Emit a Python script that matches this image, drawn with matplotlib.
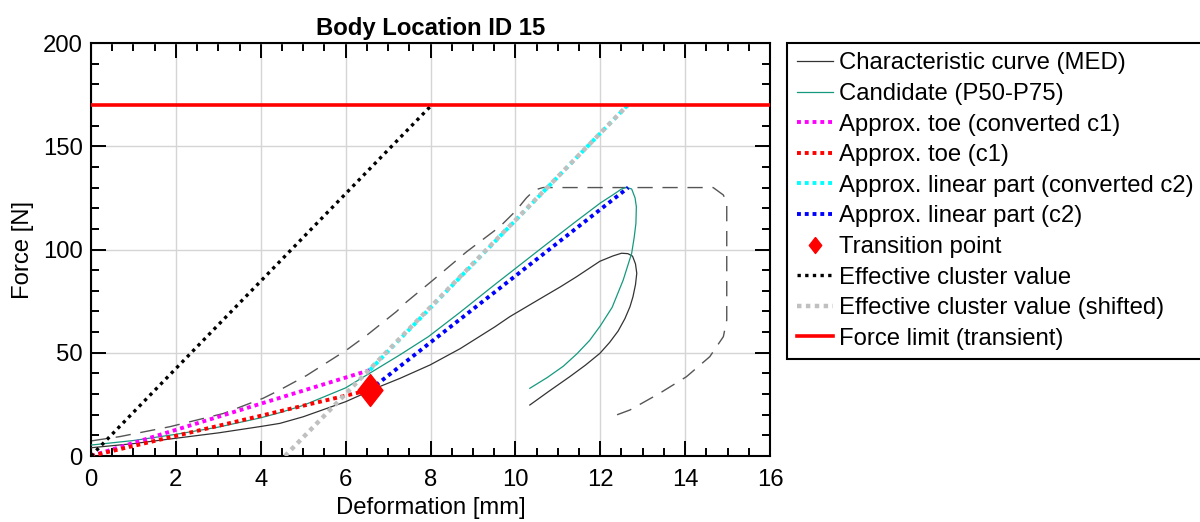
import matplotlib
matplotlib.use("Agg")
import matplotlib.pyplot as plt
from matplotlib.ticker import MultipleLocator

plt.rcParams['font.family'] = ['Liberation Sans', 'DejaVu Sans']
plt.rcParams['font.size'] = 17.2

# Characteristic curve (median), loading + unloading
med_x = [0, 1, 2, 3, 4, 4.45, 5, 6, 6.8, 7.28, 7.99, 8.7, 9.52, 9.87, 10.66, 11.05, 11.44,
         11.99, 12.3, 12.5, 12.65, 12.76, 12.83, 12.86, 12.83, 12.77, 12.7, 12.58, 12.42,
         12.22, 11.99, 11.65, 11.28, 10.8, 10.34]
med_y = [4, 6, 8.6, 11.2, 14.3, 15.8, 19, 26.3, 33.6, 37.6, 44.1, 52, 62.6, 67.5, 77.1, 81.8, 86.8,
         94.3, 96.9, 98.2, 98, 96.8, 93, 88.5, 83, 77.1, 72.3, 66.5, 60.5,
         55, 49.7, 44, 38.4, 31.5, 24.7]

# Candidate curve (P50-P75)
cand_x = [0, 1, 2, 3, 4, 4.45, 5, 6, 6.8, 7.28, 7.95, 8.69, 9.52, 10.0, 10.66, 11.05, 11.44,
          12.0, 12.3, 12.5, 12.62, 12.74, 12.82, 12.85, 12.84, 12.8, 12.74, 12.54, 12.28,
          12.0, 11.75, 11.45, 11.13, 10.75, 10.34]
cand_y = [5.3, 7.5, 10.5, 14, 18.5, 21, 24.5, 33, 43, 49, 57.8, 69.5, 83.1, 90.8, 101.4, 107.6, 113.8,
          122.5, 126.5, 129.3, 130.1, 129.3, 125, 120.7, 112.7, 106, 98.2, 85.2, 72,
          63, 56, 49.5, 43.5, 38, 32.8]

# Corridor boundary (dashed)
env_x = [0, 0.68, 1.86, 3.12, 4.06, 4.45, 5.08, 6.02, 6.5, 7.2, 7.44, 8.06, 8.85, 9.63, 10.0,
         10.26, 10.45, 10.65, 14.66, 14.9, 14.98, 14.98, 14.9, 14.58, 14.03, 13.4, 12.7, 12.23]
env_y = [7.3, 9.4, 14.2, 20.6, 28, 32, 39, 51.3, 58.5, 70, 74.7, 85.2, 98.9, 111, 118.5,
         125, 128.8, 130, 130, 126.4, 122.4, 65.9, 57.8, 48.1, 38.4, 30.4, 22.3, 18.7]

# Approximation lines
toe_conv_x = [0, 6.57]
toe_conv_y = [0, 41.6]
toe_x = [0, 6.57]
toe_y = [0, 32]
lin_conv_x = [6.57, 12.65]
lin_conv_y = [41.6, 170]
lin_x = [6.57, 12.66]
lin_y = [32, 130]
trans_x = [6.57]
trans_y = [32]
eff_x = [0, 8.03]
eff_y = [0, 170]
eff_shift_x = [4.57, 12.65]
eff_shift_y = [0, 170]
force_limit = 170

fig = plt.figure(figsize=(12, 5.22), dpi=100)
ax = fig.add_axes([0.0758, 0.1264, 0.5659, 0.7912])

ax.plot(env_x, env_y, color="#555555", lw=1.0, dashes=(11, 7), zorder=2)
ax.plot(med_x, med_y, color="#333333", lw=0.9, label="Characteristic curve (MED)", zorder=3)
ax.plot(cand_x, cand_y, color="#15997e", lw=0.9, label="Candidate (P50-P75)", zorder=3)
ax.plot(toe_conv_x, toe_conv_y, color="magenta", lw=2.8, dashes=(1, 1),
        label="Approx. toe (converted c1)", zorder=4)
ax.plot(toe_x, toe_y, color="red", lw=2.8, dashes=(1, 1), label="Approx. toe (c1)", zorder=4)
ax.plot(lin_conv_x, lin_conv_y, color="cyan", lw=2.8, dashes=(1, 1),
        label="Approx. linear part (converted c2)", zorder=4)
ax.plot(lin_x, lin_y, color="blue", lw=2.8, dashes=(1, 1), label="Approx. linear part (c2)", zorder=4)
diamond = [(0, 1), (0.78, 0), (0, -1), (-0.78, 0), (0, 1)]
ax.plot(trans_x, trans_y, linestyle="none", marker=diamond, markersize=23, color="red",
        label="Transition point", zorder=6)
ax.plot(eff_x, eff_y, color="black", lw=2.4, dashes=(1, 1.3), label="Effective cluster value", zorder=4)
ax.plot(eff_shift_x, eff_shift_y, color="#c0c0c0", lw=3.2, dashes=(1, 1),
        label="Effective cluster value (shifted)", zorder=5)
ax.axhline(force_limit, color="red", lw=2.6, label="Force limit (transient)", zorder=5)

ax.set_xlim(0, 16)
ax.set_ylim(0, 200)
ax.xaxis.set_major_locator(MultipleLocator(2))
ax.xaxis.set_minor_locator(MultipleLocator(0.5))
ax.yaxis.set_major_locator(MultipleLocator(50))
ax.yaxis.set_minor_locator(MultipleLocator(10))
ax.tick_params(which="both", direction="in", top=True, right=True, width=1.4)
ax.tick_params(which="major", length=10.5)
ax.tick_params(axis="x", which="major", pad=9)
ax.tick_params(axis="y", which="major", pad=6)
ax.tick_params(which="minor", length=5.5)
for s in ax.spines.values():
    s.set_linewidth(1.5)
ax.grid(True, which="major", color="#d5d5d5", lw=1.0)
ax.set_axisbelow(True)

ax.set_xlabel("Deformation [mm]", labelpad=5)
ax.set_ylabel("Force [N]", labelpad=6)
ax.set_title("Body Location ID 15", fontweight="bold", fontsize=17.2, pad=6)

leg = ax.legend(loc="upper left", bbox_to_anchor=(0.656, 0.918), bbox_transform=fig.transFigure,
                frameon=True, fancybox=False, edgecolor="black", framealpha=1,
                handlelength=1.5, handletextpad=0.25, labelspacing=0.36, borderpad=0.4,
                borderaxespad=0, markerscale=0.5)
leg.get_frame().set_linewidth(1.5)

plt.savefig("out.png", dpi=100)
